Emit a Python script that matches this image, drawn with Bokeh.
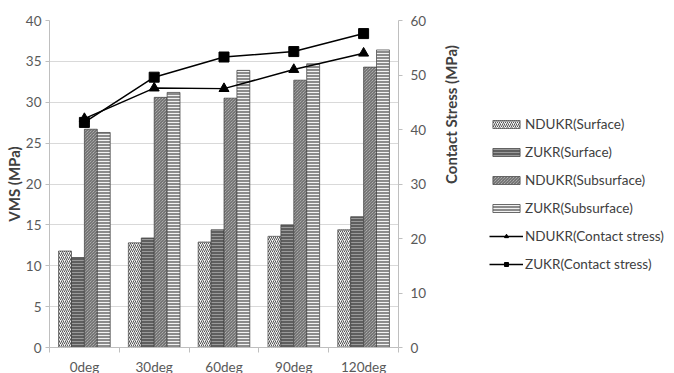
import math
from bokeh.plotting import figure
from bokeh.layouts import row
from bokeh.models import (Range1d, LinearAxis, FixedTicker, Legend, LegendItem,
                          ColumnDataSource)
from bokeh.embed import file_html
from bokeh.resources import INLINE

categories = ["0deg", "30deg", "60deg", "90deg", "120deg"]
ndukr_surface = [11.8, 12.8, 12.9, 13.6, 14.4]
zukr_surface = [11.0, 13.4, 14.4, 15.0, 16.0]
ndukr_subsurface = [26.7, 30.6, 30.5, 32.7, 34.3]
zukr_subsurface = [26.3, 31.2, 33.9, 34.7, 36.4]
ndukr_contact = [42.0, 47.6, 47.5, 51.0, 54.0]
zukr_contact = [41.3, 49.6, 53.3, 54.3, 57.6]
series_names = ["NDUKR(Surface)", "ZUKR(Surface)", "NDUKR(Subsurface)", "ZUKR(Subsurface)",
                "NDUKR(Contact stress)", "ZUKR(Contact stress)"]

FONT = "Lato"
TICK = "#595959"
GRID = "#d9d9d9"
AXIS = "#bfbfbf"

idx = list(range(len(categories)))
bw = 0.185

p = figure(frame_width=349, frame_height=327, output_backend="svg", toolbar_location=None,
           x_range=Range1d(-0.5, len(categories) - 0.5), y_range=Range1d(0, 40),
           min_border_left=49, min_border_top=20, min_border_bottom=26, min_border_right=0)
p.extra_y_ranges = {"cs": Range1d(0, 60)}
p.outline_line_color = None
p.background_fill_color = "white"
p.border_fill_color = "white"

# legend panel: a second figure holding hidden copies of the series renderers,
# used only for the legend's glyphs
lg = figure(width=210, height=373, output_backend="svg", toolbar_location=None,
            x_range=Range1d(100, 101), y_range=Range1d(100, 101),
            min_border=0, min_border_left=0, min_border_right=0,
            min_border_top=0, min_border_bottom=0)
lg.axis.visible = False
lg.grid.visible = False
lg.outline_line_color = None
lg.background_fill_color = "white"
lg.border_fill_color = "white"

def offs(k):
    return [i + (k - 1.5) * bw for i in idx]

bar_styles = [
    dict(fill_color="#f4f4f4", hatch_pattern="right_diagonal_line", hatch_color="#555555", hatch_scale=4),
    dict(fill_color="#5e5e5e", hatch_pattern="horizontal_line", hatch_color="#9a9a9a", hatch_scale=3),
    dict(fill_color="#c8c8c8", hatch_pattern="left_diagonal_line", hatch_color="#5a5a5a", hatch_scale=3),
    dict(fill_color="#8c8c8c", hatch_pattern="horizontal_line", hatch_color="#f2f2f2", hatch_scale=3),
]
bar_values = [ndukr_surface, zukr_surface, ndukr_subsurface, zukr_subsurface]
items = []
for k, (vals, st) in enumerate(zip(bar_values, bar_styles)):
    src = ColumnDataSource(dict(x=offs(k), top=vals))
    p.vbar(x="x", top="top", width=bw, bottom=0, source=src,
           line_color="#404040", line_width=0.7, hatch_weight=1, **st)
    lr = lg.vbar(x="x", top="top", width=bw, bottom=0, source=src,
                 line_color="#404040", line_width=0.7, hatch_weight=1, **st)
    lr.visible = False
    items.append(LegendItem(label=series_names[k], renderers=[lr]))

for k, (vals, mk) in enumerate([(ndukr_contact, "triangle"), (zukr_contact, "square")]):
    src = ColumnDataSource(dict(x=idx, y=vals))
    p.line("x", "y", source=src, y_range_name="cs", line_color="black", line_width=1.5)
    p.scatter("x", "y", source=src, y_range_name="cs", marker=mk, size=10,
              fill_color="black", line_color="black")
    l1 = lg.line("x", "y", source=src, line_color="black", line_width=1.5)
    l2 = lg.scatter("x", "y", source=src, marker=mk, size=8,
                    fill_color="black", line_color="black")
    l1.visible = False
    l2.visible = False
    items.append(LegendItem(label=series_names[4 + k], renderers=[l1, l2]))

# axes
p.xaxis.ticker = FixedTicker(ticks=idx, minor_ticks=[i - 0.5 for i in range(len(categories) + 1)])
p.xaxis.major_label_overrides = {i: c for i, c in enumerate(categories)}
p.xaxis.major_tick_line_color = None
p.xaxis.minor_tick_line_color = AXIS
p.xaxis.minor_tick_out = 5
p.xaxis.minor_tick_in = 0
p.xaxis.axis_line_color = AXIS
p.xaxis.major_label_text_color = TICK
p.xaxis.major_label_text_font = FONT
p.xaxis.major_label_text_font_size = "13.5px"
p.xaxis.major_label_standoff = 5

p.yaxis.ticker = FixedTicker(ticks=list(range(0, 41, 5)))
p.yaxis.axis_label = "VMS (MPa)"
ax_r = LinearAxis(y_range_name="cs", axis_label="Contact Stress (MPa)",
                  ticker=FixedTicker(ticks=list(range(0, 61, 10))))
p.add_layout(ax_r, "right")
for ax in [p.yaxis[0], ax_r]:
    ax.axis_line_color = AXIS
    ax.major_tick_line_color = AXIS
    ax.major_tick_out = 4
    ax.major_tick_in = 0
    ax.minor_tick_line_color = None
    ax.major_label_text_color = TICK
    ax.major_label_text_font = FONT
    ax.major_label_text_font_size = "13.5px"
    ax.major_label_standoff = 4
    ax.axis_label_text_font = FONT
    ax.axis_label_text_font_style = "bold"
    ax.axis_label_text_font_size = "15px"
    ax.axis_label_text_color = "#404040"
    ax.axis_label_standoff = 0
ax_r.major_label_standoff = 8
ax_r.axis_label_standoff = 22
if "axis_label_orientation" in ax_r.properties():
    ax_r.axis_label_orientation = math.pi / 2

p.xgrid.grid_line_color = None
p.ygrid.grid_line_color = GRID
p.ygrid.grid_line_width = 1.2

legend = Legend(items=items, location=(17, 71), border_line_color=None,
                background_fill_alpha=0, label_text_font=FONT,
                label_text_font_size="13.5px", label_text_color="#404040",
                glyph_width=34, glyph_height=10, label_height=14, spacing=12,
                label_standoff=2, padding=0, margin=0)
lg.add_layout(legend, "center")

layout = row(p, lg, spacing=0)
open("out.html", "w").write(file_html(layout, INLINE))
